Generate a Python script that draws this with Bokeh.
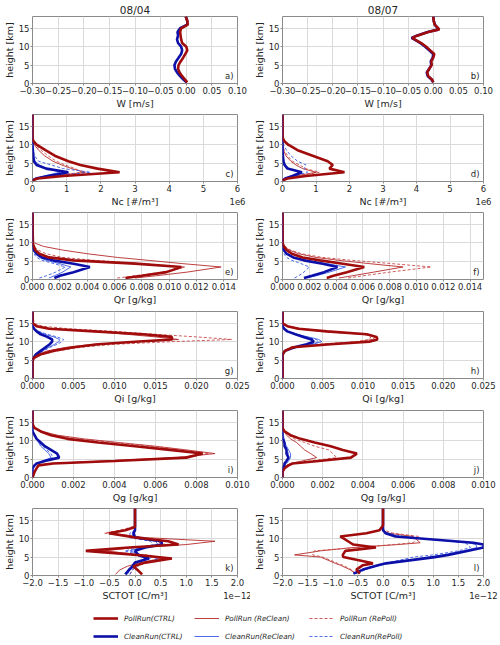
from bokeh.plotting import figure
from bokeh.models import (Range1d, FixedTicker, CustomJSTickFormatter, Label,
                          Legend, LegendItem, LinearAxis)
from bokeh.layouts import gridplot, column
from bokeh.embed import file_html
from bokeh.resources import INLINE

# ---------------- data ----------------
DATES = ["08/04", "08/07"]

# W [m/s]
W04_H = [0.3, 1, 2, 3, 4, 5, 6, 7, 8, 9, 10, 11, 12, 13, 14, 15, 16, 17, 18.2]
W04_PC = [0.002, -0.002, -0.008, -0.013, -0.016, -0.015, -0.011, -0.006, -0.002, 0.002,
          0.000, -0.008, -0.010, -0.011, -0.012, -0.010, 0.003, 0.002, -0.001]
W04_CC = [0.001, -0.005, -0.012, -0.018, -0.022, -0.023, -0.020, -0.015, -0.010, -0.008,
          -0.010, -0.016, -0.018, -0.016, -0.017, -0.012, 0.002, 0.002, -0.001]
W07_H = [0.3, 1, 2, 3, 4, 5, 6, 7, 8, 9, 10, 11, 12.4, 13, 14, 14.7, 16, 17, 18.2]
W07_PC = [0.0, -0.002, -0.010, -0.012, -0.008, -0.003, -0.004, 0.000, 0.002, -0.006,
          -0.014, -0.024, -0.042, -0.032, -0.010, 0.012, 0.003, 0.001, 0.0]
W07_CC = [0.0, -0.003, -0.011, -0.013, -0.008, -0.004, -0.005, -0.001, 0.000, -0.008,
          -0.016, -0.026, -0.043, -0.033, -0.011, 0.011, 0.003, 0.001, 0.0]

# Nc [1e6 #/m3]
NC_H = [0.3, 0.8, 1.5, 2.5, 3.5, 4.5, 5.5, 7, 8.5, 10, 11, 12, 18.2]
NC04_PC = [0, 0.15, 0.9, 2.55, 1.9, 1.4, 1.05, 0.65, 0.38, 0.12, 0.02, 0, 0]
NC04_PR = [0, 0.1, 0.6, 1.55, 1.15, 0.85, 0.6, 0.35, 0.18, 0.05, 0.0, 0, 0]
NC04_PP = [0, 0.1, 0.55, 1.45, 1.25, 0.95, 0.7, 0.45, 0.25, 0.08, 0.01, 0, 0]
NC04_CC = [0, 0.1, 0.45, 1.05, 0.4, 0.12, 0.04, 0.02, 0.01, 0, 0, 0, 0]
NC04_CR = [0, 0.08, 0.35, 0.8, 0.45, 0.2, 0.08, 0.03, 0.01, 0, 0, 0, 0]
NC04_CP = [0, 0.12, 0.6, 1.7, 0.9, 0.55, 0.18, 0.06, 0.02, 0, 0, 0, 0]
NC07_PC = [0, 0.15, 0.7, 1.85, 1.4, 1.5, 1.35, 0.9, 0.45, 0.17, 0.05, 0, 0]
NC07_PR = [0, 0.1, 0.4, 1.0, 0.6, 0.4, 0.25, 0.1, 0.03, 0, 0, 0, 0]
NC07_PP = [0, 0.1, 0.45, 1.1, 0.7, 0.5, 0.3, 0.15, 0.05, 0.01, 0, 0, 0]
NC07_CC = [0, 0.08, 0.3, 0.58, 0.15, 0.06, 0.03, 0.01, 0, 0, 0, 0, 0]
NC07_CR = [0, 0.07, 0.25, 0.5, 0.2, 0.08, 0.04, 0.01, 0, 0, 0, 0, 0]
NC07_CP = [0, 0.1, 0.35, 0.75, 0.65, 0.7, 0.45, 0.25, 0.12, 0.03, 0, 0, 0]

# Qr [g/kg]
QR_H = [0.4, 1, 2, 3.4, 4.3, 5.2, 6, 7, 8, 9, 10, 18.2]
QR04_PC = [0.0068, 0.0080, 0.0098, 0.0109, 0.0075, 0.0030, 0.0012, 0.0005, 0.0002, 0.0001, 0, 0]
QR04_PR = [0.0075, 0.0090, 0.0113, 0.0138, 0.0110, 0.0085, 0.0062, 0.0040, 0.0022, 0.0008, 0.0001, 0]
QR04_PP = [0.0062, 0.0075, 0.0095, 0.0112, 0.0080, 0.0045, 0.0022, 0.0010, 0.0004, 0.0001, 0, 0]
QR04_CC = [0.0016, 0.0020, 0.0030, 0.0042, 0.0030, 0.0015, 0.0007, 0.0003, 0.0001, 0.00003, 0, 0]
QR04_CR = [0.0012, 0.0016, 0.0022, 0.0028, 0.0020, 0.0010, 0.0005, 0.0002, 0.0001, 0, 0, 0]
QR04_CP = [0.0005, 0.0010, 0.0017, 0.0024, 0.0016, 0.0007, 0.0003, 0.0001, 0.00005, 0, 0, 0]
QR07_PC = [0.0033, 0.0038, 0.0048, 0.0061, 0.0045, 0.0028, 0.0015, 0.0007, 0.0003, 0.0001, 0, 0]
QR07_PR = [0.0042, 0.0052, 0.0068, 0.0090, 0.0065, 0.0042, 0.0025, 0.0012, 0.0005, 0.0001, 0, 0]
QR07_PP = [0.0049, 0.0060, 0.0080, 0.0111, 0.0082, 0.0052, 0.0030, 0.0014, 0.0006, 0.0002, 0, 0]
QR07_CC = [0.0016, 0.0022, 0.0031, 0.0041, 0.0030, 0.0016, 0.0008, 0.0003, 0.0001, 0, 0, 0]
QR07_CR = [0.0018, 0.0025, 0.0035, 0.0047, 0.0033, 0.0018, 0.0009, 0.0003, 0.0001, 0, 0, 0]
QR07_CP = [0.0009, 0.0012, 0.0016, 0.0020, 0.0014, 0.0007, 0.0003, 0.0001, 0, 0, 0, 0]

# Qi [g/kg]
QI_H = [0, 4.5, 5.5, 6.5, 7.5, 8.5, 9.3, 10, 10.6, 11.3, 12, 12.8, 13.5, 14.2, 15, 18.2]
QI04_PC = [0, 0, 0.0001, 0.0009, 0.0025, 0.0050, 0.0080, 0.0125, 0.0170, 0.0170, 0.0135, 0.0075, 0.0020, 0.0005, 0, 0]
QI04_PR = [0, 0, 0.0001, 0.0006, 0.0018, 0.0042, 0.0075, 0.0130, 0.0178, 0.0150, 0.0115, 0.0075, 0.0025, 0.0007, 0.0001, 0]
QI04_PP = [0, 0, 0.0002, 0.0012, 0.0030, 0.0060, 0.0100, 0.0170, 0.0243, 0.0200, 0.0150, 0.0100, 0.0045, 0.0012, 0.0002, 0]
QI04_CC = [0, 0, 0.0001, 0.0004, 0.0010, 0.0016, 0.0021, 0.0024, 0.0024, 0.0018, 0.0010, 0.0005, 0.0002, 0, 0, 0]
QI04_CR = [0, 0, 0.0001, 0.0005, 0.0012, 0.0020, 0.0027, 0.0032, 0.0033, 0.0026, 0.0015, 0.0007, 0.0002, 0, 0, 0]
QI04_CP = [0, 0, 0.0001, 0.0005, 0.0013, 0.0022, 0.0030, 0.0036, 0.0038, 0.0030, 0.0018, 0.0008, 0.0002, 0, 0, 0]
QI07_PC = [0, 0, 0, 0, 0.0003, 0.0013, 0.0060, 0.0108, 0.0118, 0.0117, 0.0105, 0.0055, 0.0020, 0.0006, 0, 0]
QI07_PR = [0, 0, 0, 0, 0.0002, 0.0012, 0.0050, 0.0095, 0.0112, 0.0116, 0.0100, 0.0050, 0.0017, 0.0005, 0, 0]
QI07_PP = [0, 0, 0, 0, 0.0002, 0.0010, 0.0045, 0.0090, 0.0108, 0.0110, 0.0105, 0.0060, 0.0025, 0.0008, 0.0001, 0]
QI07_CC = [0, 0, 0, 0, 0.0003, 0.0015, 0.0030, 0.0039, 0.0036, 0.0026, 0.0016, 0.0006, 0.0002, 0, 0, 0]
QI07_CR = [0, 0, 0, 0, 0.0003, 0.0018, 0.0038, 0.0049, 0.0045, 0.0032, 0.0018, 0.0007, 0.0002, 0, 0, 0]
QI07_CP = [0, 0, 0, 0, 0.0003, 0.0016, 0.0034, 0.0045, 0.0042, 0.0030, 0.0017, 0.0007, 0.0002, 0, 0, 0]

# Qg [g/kg]
QG_H = [0, 1.5, 2.5, 3.3, 3.8, 4.5, 5.4, 6.5, 7.5, 8.5, 9.5, 10.5, 11.5, 12.5, 13.5, 14.5, 18.2]
QG04_PC = [0, 0.0001, 0.0002, 0.0003, 0.0010, 0.0040, 0.0075, 0.0083, 0.0067, 0.0050, 0.0032, 0.0017, 0.0009, 0.0004, 0.0001, 0, 0]
QG04_PR = [0, 0.0001, 0.0002, 0.0003, 0.0008, 0.0035, 0.0070, 0.0089, 0.0075, 0.0060, 0.0042, 0.0025, 0.0012, 0.0005, 0.0001, 0, 0]
QG04_PP = [0, 0.0001, 0.0002, 0.0003, 0.0009, 0.0038, 0.0074, 0.0086, 0.0072, 0.0057, 0.0040, 0.0022, 0.0011, 0.0004, 0.0001, 0, 0]
QG04_CC = [0, 0, 0, 0.0001, 0.0002, 0.0006, 0.0013, 0.0012, 0.0009, 0.0006, 0.0004, 0.0002, 0.0001, 0, 0, 0, 0]
QG04_CR = [0, 0, 0, 0.0001, 0.0002, 0.0005, 0.0009, 0.0008, 0.0006, 0.0004, 0.0003, 0.0002, 0.0001, 0, 0, 0, 0]
QG04_CP = [0, 0, 0, 0.0001, 0.0002, 0.0005, 0.0010, 0.0009, 0.0007, 0.0005, 0.0003, 0.0002, 0.0001, 0, 0, 0, 0]
QG07_PC = [0, 0, 0.0001, 0.0003, 0.0005, 0.0018, 0.0034, 0.0037, 0.0030, 0.0024, 0.0016, 0.0009, 0.0004, 0.0001, 0, 0, 0]
QG07_PR = [0, 0, 0.0001, 0.0002, 0.0004, 0.0010, 0.0017, 0.0014, 0.0011, 0.0009, 0.0007, 0.0004, 0.0002, 0.0001, 0, 0, 0]
QG07_PP = [0, 0, 0.0001, 0.0002, 0.0005, 0.0014, 0.0027, 0.0025, 0.0023, 0.0016, 0.0011, 0.0006, 0.0003, 0.0001, 0, 0, 0]
QG07_CC = [0, 0, 0, 0.0001, 0.0001, 0.0002, 0.0003, 0.0002, 0.0002, 0.0001, 0.0001, 0, 0, 0, 0, 0, 0]
QG07_CR = [0, 0, 0, 0.0001, 0.0002, 0.0003, 0.0004, 0.0004, 0.0003, 0.0002, 0.0001, 0.0001, 0, 0, 0, 0, 0]
QG07_CP = [0, 0, 0, 0.0001, 0.0001, 0.0002, 0.0003, 0.0003, 0.0002, 0.0002, 0.0001, 0, 0, 0, 0, 0, 0]

# SCTOT [1e-12 C/m3]
SC04_H = [0.3, 1.5, 2.5, 3.5, 4.6, 5.5, 6.7, 7.6, 8.4, 9.3, 10.3, 11.5, 12.3, 13.2, 14, 18.2]
SC04_PC = [0.14, 0.05, -0.03, 0.2, 0.72, 0.1, -0.96, -0.12, 0.85, 0.65, 0.0, -0.51, -0.19, 0.0, 0.0, 0.0]
SC04_PR = [-0.38, -0.30, -0.15, 0.1, 0.5, 0.2, -0.6, 0.0, 1.0, 1.56, 0.2, -0.45, -0.2, 0.0, 0.0, 0.0]
SC04_PP = [-0.1, -0.05, 0.0, 0.15, 0.6, 0.3, -0.7, -0.1, 0.6, 0.4, 0.0, -0.6, -0.3, -0.05, 0, 0]
SC04_CC = [-0.19, -0.12, -0.05, 0.0, 0.27, 0.07, 0.0, 0.2, 0.52, 0.52, 0.0, -0.03, 0.0, 0.0, 0, 0]
SC04_CR = [-0.15, -0.1, 0.0, 0.05, 0.3, 0.15, -0.1, 0.15, 0.45, 0.4, -0.05, -0.05, 0.0, 0, 0, 0]
SC04_CP = [-0.1, -0.05, 0.05, 0.2, 0.46, 0.1, -0.2, 0.1, 0.35, 0.3, -0.1, -0.1, 0.0, 0, 0, 0]
SC07_H = [0.5, 1.6, 2.8, 3.3, 5.0, 5.6, 6.7, 7.6, 8.4, 8.9, 10.6, 11.5, 12.3, 13.6, 18.2]
SC07_PC = [-0.46, -0.53, -0.40, -0.2, -0.79, -0.80, -0.75, -0.14, -0.59, -0.65, -0.85, -0.33, -0.07, 0.0, 0.0]
SC07_PR = [-0.53, -0.66, -0.85, -0.95, -1.24, -1.76, -1.24, -0.6, 0.3, 0.74, 0.6, 0.1, 0.0, 0.0, 0.0]
SC07_PP = [-0.55, -0.63, -0.8, -0.9, -1.2, -1.4, -1.37, -0.5, 0.2, 0.6, 0.72, 0.2, 0.02, 0, 0]
SC07_CC = [-0.59, -0.40, -0.10, 0.06, 1.03, 1.3, 1.7, 2.0, 2.0, 1.8, 0.25, 0.05, 0.0, 0.0, 0.0]
SC07_CR = [-0.55, -0.38, -0.05, 0.1, 0.9, 1.2, 1.6, 1.87, 1.85, 1.7, 0.3, 0.05, 0, 0, 0]
SC07_CP = [-0.5, -0.35, -0.1, 0.05, 0.6, 1.0, 1.5, 1.74, 1.7, 1.6, 0.4, 0.1, 0, 0, 0]

# axis ticks
W_TICKS = [-0.30, -0.25, -0.20, -0.15, -0.10, -0.05, 0.00, 0.05, 0.10]
NC_TICKS = [0, 1, 2, 3, 4, 5, 6]
QR_TICKS = [0.000, 0.002, 0.004, 0.006, 0.008, 0.010, 0.012, 0.014]
QI_TICKS = [0.000, 0.005, 0.010, 0.015, 0.020, 0.025]
QG_TICKS = [0.000, 0.002, 0.004, 0.006, 0.008, 0.010]
SC_TICKS = [-2.0, -1.5, -1.0, -0.5, 0.0, 0.5, 1.0, 1.5, 2.0]
Y_TICKS = [0, 5, 10, 15]

LEGEND_LABELS = {
    "PC": "PollRun(CTRL)", "PR": "PollRun (ReClean)", "PP": "PollRun (RePoll)",
    "CC": "CleanRun(CTRL)", "CR": "CleanRun(ReClean)", "CP": "CleanRun(RePoll)",
}

# ---------------- styling ----------------
FONT = "DejaVu Sans"
TXT = "#262626"
STY = {
    "PC": dict(line_color="#a00c0c", line_width=2.6),
    "PR": dict(line_color="#b52a2a", line_width=0.9),
    "PP": dict(line_color="#c94a4a", line_width=0.9, line_dash="3 2"),
    "CC": dict(line_color="#0d10a8", line_width=2.6),
    "CR": dict(line_color="#3a5ae6", line_width=0.9),
    "CP": dict(line_color="#3a5ae6", line_width=0.9, line_dash="3 2"),
}
DRAW_ORDER = ["PR", "PP", "CR", "CP", "CC", "PC"]

ROW_H = [111, 98, 98, 99, 99, 98]
ROW_TOP = [16, 3, 3, 4, 4, 3]
ROW_BOTTOM = 24
COL_LEFT = [30, 27]
COL_RIGHT = [13, 17]
YMAX = 18.2


def fmt(dec):
    return CustomJSTickFormatter(code=(
        "if (Math.abs(tick) < 1e-12) return (0).toFixed(%d);"
        "return (tick < 0 ? '\\u2212' : '') + Math.abs(tick).toFixed(%d);" % (dec, dec)))


def style_axis(ax):
    ax.axis_line_color = None
    ax.major_tick_line_color = "#8a8a8a"
    ax.major_tick_out = 2
    ax.major_tick_in = 0
    ax.minor_tick_line_color = None
    ax.major_label_standoff = 1
    ax.axis_label_standoff = 1
    ax.major_label_text_font = FONT
    ax.major_label_text_font_size = "8.5px"
    ax.major_label_text_color = TXT
    ax.axis_label_text_font = FONT
    ax.axis_label_text_font_size = "9.5px"
    ax.axis_label_text_font_style = "normal"
    ax.axis_label_text_color = TXT


def panel(row, col, H, series, xr, ticks, dec, xlabel, letter, offset=None, title=None):
    p = figure(width=250, height=ROW_H[row], output_backend="svg", toolbar_location=None,
               x_range=Range1d(*xr), y_range=Range1d(0, YMAX),
               min_border_left=COL_LEFT[col], min_border_right=COL_RIGHT[col],
               min_border_top=ROW_TOP[row], min_border_bottom=ROW_BOTTOM)
    if title:
        p.title.text = title
        p.title.align = "center"
        p.title.text_font = FONT
        p.title.text_font_size = "10.5px"
        p.title.text_font_style = "normal"
        p.title.text_color = TXT
        p.title.standoff = 1
        p.title.offset = 0
    p.outline_line_color = "#8a8a8a"
    p.outline_line_width = 1
    p.background_fill_color = "white"
    p.border_fill_color = "white"
    for g in (p.xgrid, p.ygrid):
        g.grid_line_color = "#dadada"
        g.grid_line_width = 1
    p.xaxis.ticker = FixedTicker(ticks=ticks)
    p.xaxis.formatter = fmt(dec)
    p.yaxis.ticker = FixedTicker(ticks=Y_TICKS)
    p.xaxis.axis_label = xlabel
    p.yaxis.axis_label = "height [km]"
    style_axis(p.xaxis[0])
    style_axis(p.yaxis[0])
    for key in DRAW_ORDER:
        if key in series:
            p.line(series[key], H, **STY[key])
    p.add_layout(Label(x=xr[1], y=0, x_offset=-4, y_offset=3, text=letter,
                       text_align="right", text_baseline="bottom", text_font=FONT,
                       text_font_size="8.5px", text_color=TXT))
    if offset:
        # scientific offset text, right-aligned on the axis-label row
        ax2 = LinearAxis(axis_label=offset, ticker=FixedTicker(ticks=[]),
                         major_tick_line_color=None, minor_tick_line_color=None,
                         major_tick_out=0, major_label_standoff=0,
                         axis_line_color=None, axis_label_text_font=FONT,
                         axis_label_text_font_size="8.5px", axis_label_text_color=TXT,
                         axis_label_text_font_style="normal", axis_label_standoff=-12)
        ax2.axis_label_align = "end"
        p.add_layout(ax2, "below")
    return p


rows = []
rows.append([
    panel(0, 0, W04_H, {"PC": W04_PC, "CC": W04_CC}, (-0.3, 0.1), W_TICKS, 2, "W [m/s]", "a)", title=DATES[0]),
    panel(0, 1, W07_H, {"PC": W07_PC, "CC": W07_CC}, (-0.3, 0.1), W_TICKS, 2, "W [m/s]", "b)", title=DATES[1]),
])
rows.append([
    panel(1, 0, NC_H, dict(PC=NC04_PC, PR=NC04_PR, PP=NC04_PP, CC=NC04_CC, CR=NC04_CR, CP=NC04_CP),
          (0, 6), NC_TICKS, 0, "Nc [#/m\u00b3]", "c)", offset="1e6"),
    panel(1, 1, NC_H, dict(PC=NC07_PC, PR=NC07_PR, PP=NC07_PP, CC=NC07_CC, CR=NC07_CR, CP=NC07_CP),
          (0, 6), NC_TICKS, 0, "Nc [#/m\u00b3]", "d)", offset="1e6"),
])
rows.append([
    panel(2, 0, QR_H, dict(PC=QR04_PC, PR=QR04_PR, PP=QR04_PP, CC=QR04_CC, CR=QR04_CR, CP=QR04_CP),
          (0, 0.015), QR_TICKS, 3, "Qr [g/kg]", "e)"),
    panel(2, 1, QR_H, dict(PC=QR07_PC, PR=QR07_PR, PP=QR07_PP, CC=QR07_CC, CR=QR07_CR, CP=QR07_CP),
          (0, 0.015), QR_TICKS, 3, "Qr [g/kg]", "f)"),
])
rows.append([
    panel(3, 0, QI_H, dict(PC=QI04_PC, PR=QI04_PR, PP=QI04_PP, CC=QI04_CC, CR=QI04_CR, CP=QI04_CP),
          (0, 0.025), QI_TICKS, 3, "Qi [g/kg]", "g)"),
    panel(3, 1, QI_H, dict(PC=QI07_PC, PR=QI07_PR, PP=QI07_PP, CC=QI07_CC, CR=QI07_CR, CP=QI07_CP),
          (0, 0.025), QI_TICKS, 3, "Qi [g/kg]", "h)"),
])
rows.append([
    panel(4, 0, QG_H, dict(PC=QG04_PC, PR=QG04_PR, PP=QG04_PP, CC=QG04_CC, CR=QG04_CR, CP=QG04_CP),
          (0, 0.010), QG_TICKS, 3, "Qg [g/kg]", "i)"),
    panel(4, 1, QG_H, dict(PC=QG07_PC, PR=QG07_PR, PP=QG07_PP, CC=QG07_CC, CR=QG07_CR, CP=QG07_CP),
          (0, 0.010), QG_TICKS, 3, "Qg [g/kg]", "j)"),
])
rows.append([
    panel(5, 0, SC04_H, dict(PC=SC04_PC, PR=SC04_PR, PP=SC04_PP, CC=SC04_CC, CR=SC04_CR, CP=SC04_CP),
          (-2, 2), SC_TICKS, 1, "SCTOT [C/m\u00b3]", "k)", offset="1e\u221212"),
    panel(5, 1, SC07_H, dict(PC=SC07_PC, PR=SC07_PR, PP=SC07_PP, CC=SC07_CC, CR=SC07_CR, CP=SC07_CP),
          (-2, 2), SC_TICKS, 1, "SCTOT [C/m\u00b3]", "l)", offset="1e\u221212"),
])

# ---------------- legend ----------------
lg = figure(width=500, height=42, output_backend="svg", toolbar_location=None,
            x_range=Range1d(0, 1), y_range=Range1d(0, 1),
            min_border_left=0, min_border_right=0, min_border_top=0, min_border_bottom=0)
lg.axis.visible = False
lg.grid.visible = False
lg.outline_line_color = None
# proxy renderers for the legend samples (kept outside the visible range)
PROXY_X = [5, 6]
PROXY_Y = [5, 6]
rends = {k: lg.line(PROXY_X, PROXY_Y, **STY[k]) for k in STY}
LEG_COLS = [(["PC", "CC"], 93), (["PR", "CR"], 194), (["PP", "CP"], 309)]
for keys, xpos in LEG_COLS:
    leg = Legend(items=[LegendItem(label=LEGEND_LABELS[k], renderers=[rends[k]]) for k in keys],
                 location=(xpos, 4), orientation="vertical",
                 glyph_width=25, glyph_height=10, label_height=10, spacing=8,
                 padding=0, margin=0, label_standoff=6,
                 border_line_color=None, background_fill_alpha=0,
                 label_text_font=FONT, label_text_font_size="7.2px",
                 label_text_font_style="italic", label_text_color=TXT)
    lg.add_layout(leg, "center")

grid = gridplot(rows, toolbar_location=None)
layout = column(grid, lg)

open("out.html", "w").write(file_html(layout, INLINE))
